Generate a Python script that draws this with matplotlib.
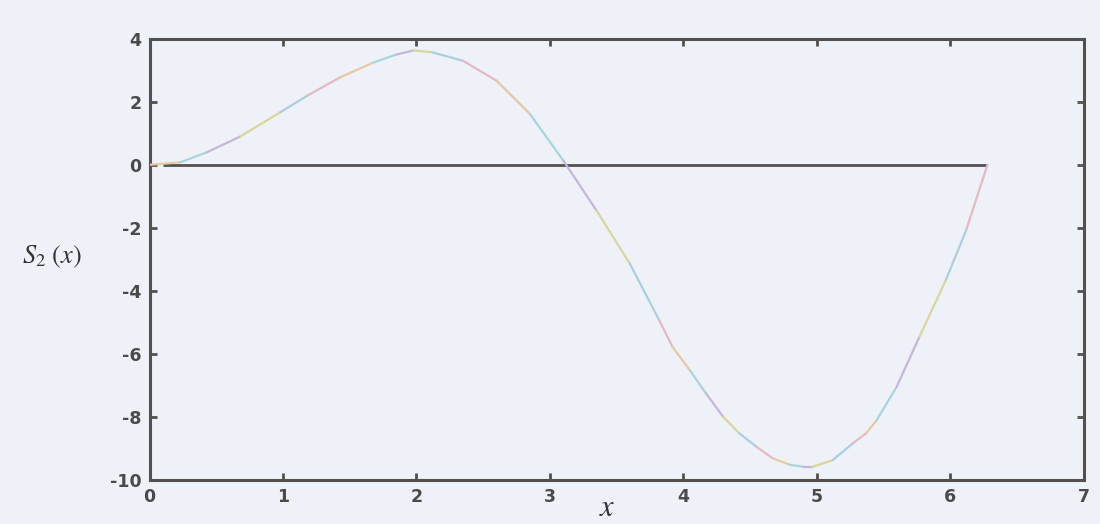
import numpy as np
import matplotlib.pyplot as plt
from matplotlib.collections import LineCollection

plt.rcParams["axes.unicode_minus"] = False
plt.rcParams["mathtext.fontset"] = "stix"

# ── dati ──────────────────────────────────────────────────────
x_vals = [0.0, 0.23, 0.43, 0.68, 0.98, 1.18, 1.43, 1.68, 1.85, 1.98, 2.12,
          2.35, 2.60, 2.85, 3.10, 3.35, 3.60, 3.82, 3.92, 4.05, 4.17, 4.30,
          4.42, 4.55, 4.67, 4.80, 4.90, 4.97, 5.12, 5.27, 5.37, 5.45, 5.60,
          5.77, 5.97, 6.12, 6.28]
s2_vals = [0.0, 0.08, 0.40, 0.90, 1.67, 2.19, 2.78, 3.25, 3.50, 3.63, 3.57,
           3.30, 2.67, 1.62, 0.14, -1.45, -3.14, -4.93, -5.78, -6.52, -7.25, -8.00,
           -8.52, -8.95, -9.31, -9.52, -9.58, -9.58, -9.37, -8.84, -8.52, -8.10, -7.04,
           -5.46, -3.64, -2.08, 0.0]

zero_x = [0.1, 6.28]
zero_y = [0.0, 0.0]

x_ticks = [0, 1, 2, 3, 4, 5, 6, 7]
y_ticks = [-10, -8, -6, -4, -2, 0, 2, 4]

BG      = "#eef2f8"
DARK    = "#55504f"
PASTEL  = ["#e6c9a3", "#a8d5dc", "#c7b5dc", "#d9d69c", "#a9cfe0", "#e3b9c4"]
# ─────────────────────────────────────────────────────────────

fig = plt.figure(figsize=(11, 5.24), dpi=100, facecolor=BG)
ax = fig.add_axes([0.136, 0.084, 0.849, 0.842], facecolor=BG)

ax.plot(zero_x, zero_y, color=DARK, lw=2.0, solid_capstyle="butt", zorder=2)

pts  = np.column_stack([x_vals, s2_vals])
segs = np.stack([pts[:-1], pts[1:]], axis=1)
cols = [PASTEL[i % len(PASTEL)] for i in range(len(segs))]
lc = LineCollection(segs, colors=cols, linewidths=1.6, capstyle="round",
                    joinstyle="round", zorder=3)
ax.add_collection(lc)

ax.set_xlim(0, 7)
ax.set_ylim(-10, 4)
ax.set_xticks(x_ticks)
ax.set_yticks(y_ticks)

for s in ax.spines.values():
    s.set_color(DARK)
    s.set_linewidth(2.2)

ax.tick_params(direction="in", length=5, width=2, color=DARK,
               top=True, right=True, labelsize=12.5, labelcolor="#4a4a4a", pad=6)
for lab in ax.get_xticklabels() + ax.get_yticklabels():
    lab.set_fontweight("bold")

fig.text(52/1100, 1 - 257/524, r"$S_2\ (x)$", fontsize=19, color="#333333",
         ha="center", va="center")
fig.text(607/1100, 1 - 522/524, r"$x$", fontsize=22, color="#333333",
         ha="center", va="bottom")

plt.savefig("out.png", dpi=100, facecolor=BG)
